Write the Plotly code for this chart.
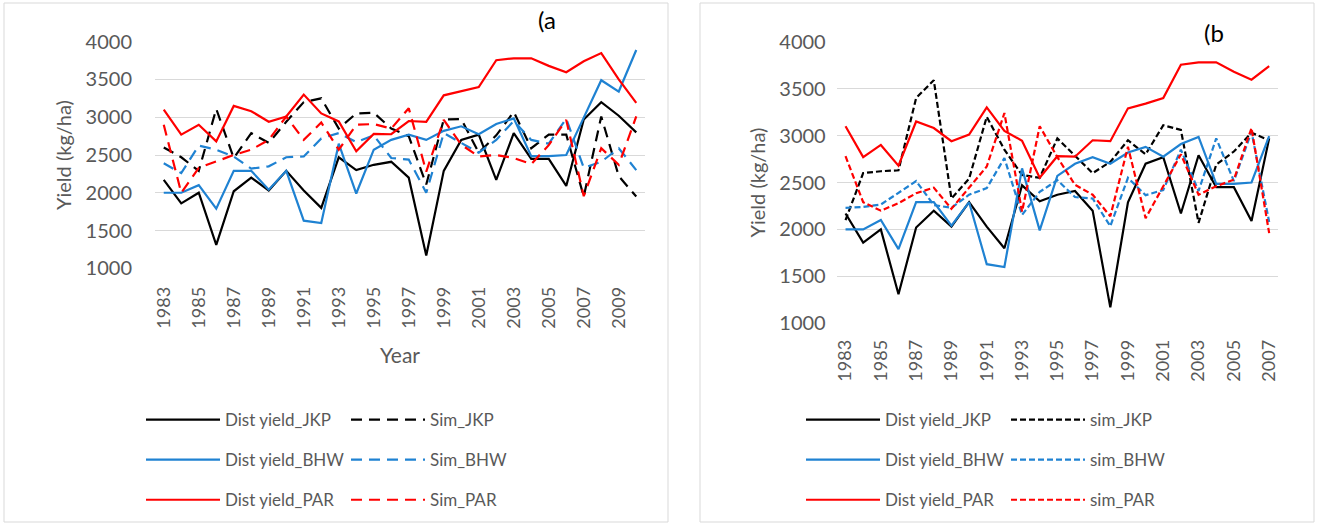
import plotly.graph_objects as go

# ---------------- data ----------------
years_a = list(range(1983, 2011))
years_b = list(range(1983, 2008))

dist_jkp = [2170, 1860, 2000, 1310, 2020, 2200, 2030, 2290, 2030, 1800, 2470, 2300, 2370, 2410,
            2200, 1170, 2290, 2700, 2770, 2170, 2790, 2450, 2450, 2090, 2970, 3200, 3020, 2800]
dist_bhw = [2000, 2000, 2100, 1790, 2290, 2290, 2040, 2290, 1630, 1600, 2650, 1990, 2570, 2700,
            2770, 2700, 2820, 2880, 2775, 2910, 2985, 2485, 2485, 2500, 2995, 3490, 3340, 3890]
dist_par = [3100, 2770, 2900, 2680, 3150, 3080, 2940, 3010, 3300, 3050, 2945, 2550, 2780, 2775,
            2950, 2940, 3290, 3340, 3400, 3755, 3780, 3780, 3680, 3595, 3740, 3850, 3500, 3190]

sim_jkp_a = [2600, 2470, 2290, 3110, 2460, 2790, 2660, 2940, 3200, 3250, 2850, 3050, 3060, 2850,
             2750, 2110, 2970, 2975, 2530, 2760, 3070, 2590, 2770, 2770, 1950, 3010, 2220, 1950]
sim_bhw_a = [2390, 2260, 2625, 2570, 2480, 2320, 2350, 2470, 2480, 2720, 2790, 2670, 2760, 2460,
             2440, 2000, 2790, 2660, 2530, 2700, 2950, 2700, 2650, 2980, 2330, 2410, 2590, 2300]
sim_par_a = [2900, 2000, 2330, 2420, 2500, 2570, 2700, 3010, 2700, 2930, 2570, 2900, 2910, 2850,
             3120, 2280, 2965, 2635, 2480, 2500, 2460, 2380, 2630, 2965, 1955, 2590, 2370, 3010]

sim_jkp_b = [2100, 2600, 2620, 2630, 3400, 3590, 2330, 2540, 3200, 2850, 2580, 2550, 2970,
             2780, 2600, 2720, 2950, 2800, 3110, 3060, 2070, 2690, 2830, 3030, 2950]
sim_bhw_b = [2230, 2240, 2265, 2390, 2515, 2260, 2230, 2370, 2440, 2760, 2155, 2400, 2525,
             2345, 2330, 2035, 2550, 2365, 2420, 2850, 2410, 2970, 2515, 3040, 2080]
sim_par_b = [2780, 2290, 2200, 2280, 2385, 2445, 2220, 2440, 2670, 3240, 2190, 3100, 2770,
             2475, 2370, 2140, 2880, 2120, 2460, 2800, 2370, 2460, 2530, 3080, 1960]

names_a = ["Dist yield_JKP", "Sim_JKP", "Dist yield_BHW", "Sim_BHW", "Dist yield_PAR", "Sim_PAR"]
names_b = ["Dist yield_JKP", "sim_JKP", "Dist yield_BHW", "sim_BHW", "Dist yield_PAR", "sim_PAR"]
ticks_a = list(range(1983, 2011, 2))
ticks_b = list(range(1983, 2008, 2))

# ---------------- style ----------------
W, H = 1318, 525
BLACK, BLUE, RED = "#000000", "#1F82D2", "#FF0000"
GRAY = "#595959"
FONT = "Lato, Carlito, Liberation Sans, sans-serif"
LW = 2.2
DASH_A = "11px,7px"
DASH_B = "6px,3px"

def fx(px):
    return px / W

def fy(py):
    return 1 - py / H

fig = go.Figure()

series_a = [(years_a, dist_jkp, BLACK, "solid", "legend"),
            (years_a, sim_jkp_a, BLACK, DASH_A, "legend2"),
            (years_a, dist_bhw, BLUE, "solid", "legend"),
            (years_a, sim_bhw_a, BLUE, DASH_A, "legend2"),
            (years_a, dist_par, RED, "solid", "legend"),
            (years_a, sim_par_a, RED, DASH_A, "legend2")]
for i, (xs, ys, col, dash, lg) in enumerate(series_a):
    fig.add_trace(go.Scatter(x=xs, y=ys, mode="lines", name=names_a[i],
                             line=dict(color=col, width=LW, dash=dash),
                             xaxis="x", yaxis="y", legend=lg, legendgroup="a%d" % i))

n_b = len(years_b)
series_b = [(years_b, dist_jkp[:n_b], BLACK, "solid", "legend3"),
            (years_b, sim_jkp_b, BLACK, DASH_B, "legend4"),
            (years_b, dist_bhw[:n_b], BLUE, "solid", "legend3"),
            (years_b, sim_bhw_b, BLUE, DASH_B, "legend4"),
            (years_b, dist_par[:n_b], RED, "solid", "legend3"),
            (years_b, sim_par_b, RED, DASH_B, "legend4")]
for i, (xs, ys, col, dash, lg) in enumerate(series_b):
    fig.add_trace(go.Scatter(x=xs, y=ys, mode="lines", name=names_b[i],
                             line=dict(color=col, width=LW, dash=dash),
                             xaxis="x2", yaxis="y2", legend=lg, legendgroup="b%d" % i))

tickfont_y = dict(family=FONT, size=20, color=GRAY)
tickfont_x = dict(family=FONT, size=18, color=GRAY)
titlefont = dict(family=FONT, size=20, color=GRAY)

common_y = dict(range=[1000, 4000], dtick=500, tick0=1000, showgrid=True, gridcolor="#D9D9D9",
                gridwidth=1.3, zeroline=False, showline=False, tickfont=tickfont_y,
                automargin=False)
common_x = dict(showgrid=False, zeroline=False, showline=False, tickangle=-90,
                tickfont=tickfont_x, automargin=False)

legend_common = dict(bgcolor="rgba(0,0,0,0)", borderwidth=0, orientation="v",
                     font=dict(family=FONT, size=17, color=GRAY), traceorder="grouped",
                     tracegroupgap=15, itemwidth=74, xanchor="left", yanchor="middle",
                     itemclick=False, itemdoubleclick=False)

fig.update_layout(
    width=W, height=H, margin=dict(l=0, r=0, t=0, b=0, autoexpand=False),
    paper_bgcolor="white", plot_bgcolor="white",
    font=dict(family=FONT, color=GRAY),
    xaxis=dict(domain=[fx(155), fx(645)], range=[1982.5, 2010.5], tickvals=ticks_a,
               ticktext=[str(t) for t in ticks_a], ticklabelstandoff=14,
               title=dict(text="Year", font=dict(family=FONT, size=21, color=GRAY), standoff=20),
               anchor="y", **common_x),
    yaxis=dict(domain=[fy(268.3), fy(41.7)], anchor="x", ticklabelstandoff=22,
               title=dict(text="Yield (kg/ha)", font=titlefont, standoff=8), **common_y),
    xaxis2=dict(domain=[fx(836.7), fx(1278)], range=[1982.5, 2007.5], tickvals=ticks_b,
                ticktext=[str(t) for t in ticks_b], ticklabelstandoff=12,
                anchor="y2", **common_x),
    yaxis2=dict(domain=[fy(323.3), fy(41.7)], anchor="x2", ticklabelstandoff=10,
                title=dict(text="Yield (kg/ha)", font=titlefont, standoff=8), **common_y),
    legend=dict(x=fx(141), y=fy(460), **legend_common),
    legend2=dict(x=fx(346), y=fy(460), **legend_common),
    legend3=dict(x=fx(801), y=fy(460), **legend_common),
    legend4=dict(x=fx(1006), y=fy(460), **legend_common),
    showlegend=True,
)

fig.add_annotation(text="(a", x=fx(547), y=fy(20), xref="paper", yref="paper",
                   xanchor="center", yanchor="middle",
                   showarrow=False, font=dict(family=FONT, size=24, color="#000000"))
fig.add_annotation(text="(b", x=fx(1214), y=fy(32), xref="paper", yref="paper",
                   xanchor="center", yanchor="middle",
                   showarrow=False, font=dict(family=FONT, size=24, color="#000000"))

# panel frames
fig.add_shape(type="rect", xref="paper", yref="paper", x0=fx(4), x1=fx(668), y0=fy(522), y1=fy(3),
              line=dict(color="#D9D9D9", width=1))
fig.add_shape(type="rect", xref="paper", yref="paper", x0=fx(700), x1=fx(1314), y0=fy(522), y1=fy(3),
              line=dict(color="#D9D9D9", width=1))

fig.write_html("out.html")
